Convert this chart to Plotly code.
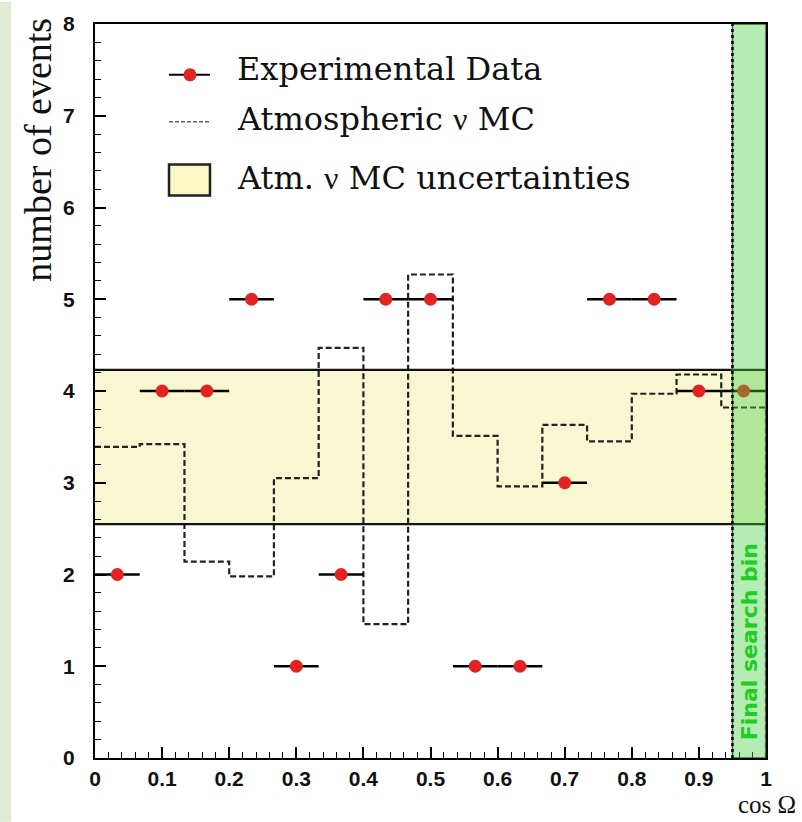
import plotly.graph_objects as go

# ---- data ----
bin_centers = [0.0333, 0.1, 0.1667, 0.2333, 0.3, 0.3667, 0.4333, 0.5,
               0.5667, 0.6333, 0.7, 0.7667, 0.8333, 0.9, 0.9667]
data_counts = [2, 4, 4, 5, 1, 2, 5, 5, 1, 1, 3, 5, 5, 4, 4]
bin_half_width = [0.0333] * 15

mc_edges = [i / 15 for i in range(16)]
mc_values = [3.39, 3.42, 2.14, 1.98, 3.05, 4.47, 1.46, 5.27,
             3.51, 2.96, 3.63, 3.45, 3.97, 4.18, 3.82]

band_low, band_high = 2.55, 4.23
search_bin = [0.95, 1.0]

x_ticks = [0, 0.1, 0.2, 0.3, 0.4, 0.5, 0.6, 0.7, 0.8, 0.9, 1]
x_ticklabels = ["0", "0.1", "0.2", "0.3", "0.4", "0.5", "0.6", "0.7", "0.8", "0.9", "1"]
y_ticks = [0, 1, 2, 3, 4, 5, 6, 7, 8]

W, H = 802, 822
ML, MR, MT, MB = 95, 36, 22, 64
PW, PH = W - ML - MR, H - MT - MB


def px(x):
    return (x - ML) / PW


def py(y):
    return (H - MB - y) / PH


fig = go.Figure()

# MC histogram (dashed step)
step_x = mc_edges + [mc_edges[-1]]
step_y = mc_values + [mc_values[-1], 0]
fig.add_trace(go.Scatter(
    x=step_x, y=step_y, mode="lines", line_shape="hv",
    line=dict(color="#222", width=2.2, dash="6px,3px"),
    showlegend=False, hoverinfo="skip"))

# experimental data
fig.add_trace(go.Scatter(
    x=bin_centers, y=data_counts, mode="markers",
    marker=dict(color="#e32222", size=13),
    error_x=dict(type="data", array=bin_half_width, width=0,
                 thickness=2.5, color="black"),
    showlegend=False))

shapes = []
# uncertainty band
shapes.append(dict(type="rect", xref="x", yref="y", x0=0, x1=1,
                   y0=band_low, y1=band_high, fillcolor="#f8f7d2",
                   line=dict(width=0), layer="below"))
for yv in (band_low, band_high):
    shapes.append(dict(type="line", xref="x", yref="y", x0=0, x1=1,
                       y0=yv, y1=yv, line=dict(color="#111", width=2.2),
                       layer="above"))
# final search bin overlay
shapes.append(dict(type="rect", xref="x", yref="y", x0=search_bin[0],
                   x1=search_bin[1], y0=0, y1=8,
                   fillcolor="rgba(68,207,68,0.4)",
                   line=dict(color="#2d6a2d", width=1.5), layer="above"))
shapes.append(dict(type="line", xref="x", yref="y", x0=search_bin[0],
                   x1=search_bin[0], y0=0, y1=8,
                   line=dict(color="black", width=2.5, dash="dot"),
                   layer="above"))
# page strip on the left
shapes.append(dict(type="rect", xref="paper", yref="paper", x0=px(0),
                   x1=px(11), y0=py(H), y1=py(0), fillcolor="#e1ebd1",
                   line=dict(width=0), layer="below"))

# legend (manual)
shapes.append(dict(type="line", xref="paper", yref="paper", x0=px(169),
                   x1=px(210), y0=py(73), y1=py(73),
                   line=dict(color="black", width=2)))
shapes.append(dict(type="circle", xref="paper", yref="paper",
                   xsizemode="pixel", ysizemode="pixel",
                   xanchor=px(190), yanchor=py(73), x0=-6.5, x1=6.5,
                   y0=-6.5, y1=6.5, fillcolor="#e32222",
                   line=dict(width=0)))
shapes.append(dict(type="line", xref="paper", yref="paper", x0=px(169),
                   x1=px(210), y0=py(120), y1=py(120),
                   line=dict(color="#666", width=1.5, dash="4px,2px")))
shapes.append(dict(type="rect", xref="paper", yref="paper", x0=px(169),
                   x1=px(210), y0=py(194), y1=py(163),
                   fillcolor="#faf8c4", line=dict(color="#222", width=2.5)))

NU = '<span style="font-family:Liberation Serif">ν</span>'
ann = []
legend_texts = ["Experimental Data", "Atmospheric " + NU + " MC",
                "Atm. " + NU + " MC uncertainties"]
legend_y = [67, 117, 176]
for t, yy in zip(legend_texts, legend_y):
    ann.append(dict(text=t, xref="paper", yref="paper", x=px(235),
                    y=py(yy), xanchor="left", yanchor="middle",
                    showarrow=False,
                    font=dict(family="DejaVu Serif", size=32,
                              color="#111")))
ann.append(dict(text="number of events", xref="paper", yref="paper",
                x=px(38), y=py(148), textangle=-90, showarrow=False,
                xanchor="center", yanchor="middle",
                font=dict(family="Liberation Serif", size=38,
                          color="#111")))
ann.append(dict(text="cos Ω", xref="paper", yref="paper", x=px(798),
                y=py(820), xanchor="right", yanchor="bottom",
                showarrow=False,
                font=dict(family="Liberation Serif", size=25,
                          color="#111")))
ann.append(dict(text="Final search bin", xref="paper", yref="paper",
                x=px(749), y=py(642), textangle=-90, showarrow=False,
                xanchor="center", yanchor="middle",
                font=dict(family="DejaVu Sans", size=22,
                          color="#22cc22", weight="bold")))

fig.update_layout(
    width=W, height=H,
    margin=dict(l=ML, r=MR, t=MT, b=MB),
    paper_bgcolor="white", plot_bgcolor="white",
    shapes=shapes, annotations=ann, showlegend=False,
    xaxis=dict(range=[0, 1], tickvals=x_ticks, ticktext=x_ticklabels,
               ticks="inside", ticklen=11, tickwidth=1.5,
               tickcolor="black", showline=True, linecolor="black",
               linewidth=2, mirror=True, showgrid=False, zeroline=False,
               minor=dict(dtick=0.02, ticks="inside", ticklen=6,
                          tickcolor="black", tickwidth=1),
               tickfont=dict(family="Liberation Sans", size=21,
                             color="#111", weight="bold"),
               ticklabelstandoff=1),
    yaxis=dict(range=[0, 8], tickvals=y_ticks, ticks="inside",
               ticklen=11, tickwidth=1.5, tickcolor="black",
               showline=True, linecolor="black", linewidth=2,
               mirror=True, showgrid=False, zeroline=False,
               minor=dict(dtick=0.2, ticks="inside", ticklen=6,
                          tickcolor="black", tickwidth=1),
               tickfont=dict(family="Liberation Sans", size=21,
                             color="#111", weight="bold"),
               ticklabelstandoff=14),
)

fig.write_html("out.html")
